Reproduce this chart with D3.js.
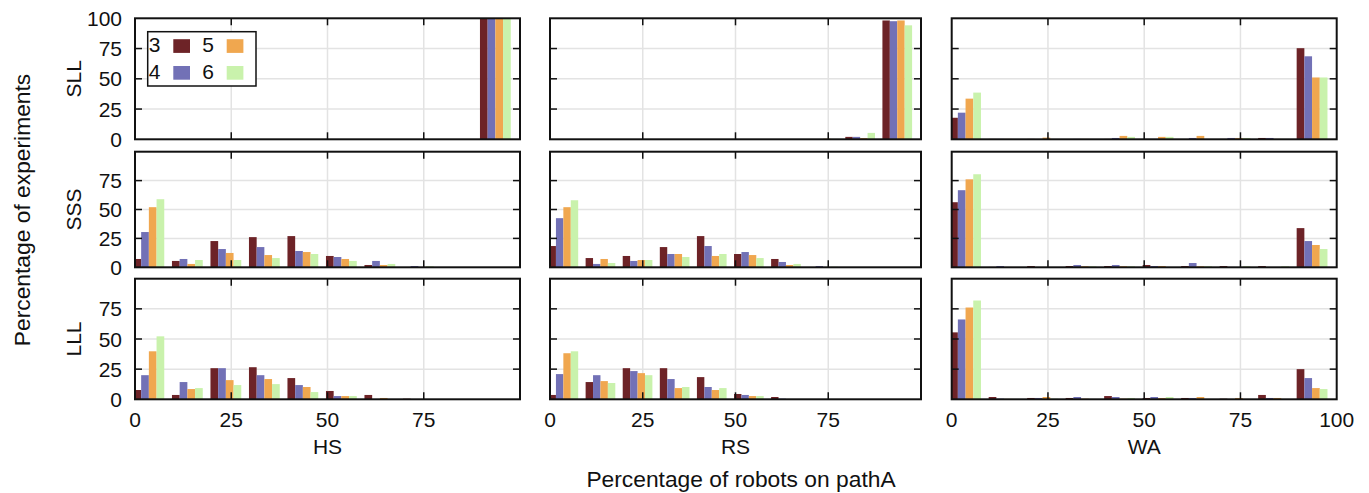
<!DOCTYPE html>
<html>
<head>
<meta charset="utf-8">
<script src="https://cdn.jsdelivr.net/npm/d3@7"></script>
<style>
  body { margin: 0; background: #fff; }
  text { font-family: "Liberation Sans", Arial, sans-serif; fill: #111; }
</style>
</head>
<body>
<svg id="chart" width="1369" height="493"></svg>
<script>
// Histogram bins (percentage of robots on path A) and swarm sizes
const bins = [0, 10, 20, 30, 40, 50, 60, 70, 80, 90];
const seriesNames = ["3", "4", "5", "6"];
const seriesColors = ["#6d2327", "#7271b6", "#f0a74f", "#c9f2ac"];
const rowNames = ["SLL", "SSS", "LLL"];
const colNames = ["HS", "RS", "WA"];
const xTickValues = [0, 25, 50, 75, 100];
const yTickValues = [0, 25, 50, 75, 100];

// Each panel: one array per swarm size (3, 4, 5, 6), one value per bin
const sllHS = [
  [0, 0, 0, 0, 0, 0, 0, 0, 0, 100],
  [0, 0, 0, 0, 0, 0, 0, 0, 0, 100],
  [0, 0, 0, 0, 0, 0, 0, 0, 0, 100],
  [0, 0, 0, 0, 0, 0, 0, 0, 0, 100]
];
const sllRS = [
  [0, 0, 0, 0, 0, 0, 0, 0, 2.0, 98.2],
  [0, 0, 0, 0, 0, 0, 0, 0, 2.0, 97.6],
  [0, 0, 0, 0, 0, 0, 0, 0.5, 1.0, 98.2],
  [0, 0, 0, 0, 0, 0, 0, 0.3, 5.3, 94.2]
];
const sllWA = [
  [17.8, 0.3, 0.3, 0, 0.3, 0.3, 0, 0.3, 1.1, 75.3],
  [22.0, 0.3, 0, 0.3, 1.1, 0.3, 1.1, 1.1, 1.1, 68.6],
  [33.6, 0.3, 1.4, 0.3, 2.8, 2.0, 2.8, 1.1, 0.3, 51.1],
  [38.6, 0, 0.3, 0, 2.0, 2.0, 0, 1.1, 0.3, 51.1]
];
const sssHS = [
  [7.2, 5.5, 22.7, 26.1, 27.0, 9.8, 2.0, 0, 0, 0],
  [30.5, 7.2, 15.8, 17.5, 14.1, 8.9, 5.5, 1.1, 0, 0],
  [52.0, 2.9, 12.4, 10.6, 13.2, 7.2, 2.0, 0, 0, 0],
  [58.9, 6.3, 6.3, 8.0, 11.5, 5.5, 2.9, 0.9, 0, 0]
];
const sssRS = [
  [18.4, 8.0, 9.8, 17.5, 27.0, 11.5, 7.2, 0, 0, 0],
  [42.5, 2.9, 5.5, 11.5, 18.4, 13.2, 4.6, 1.1, 0, 0],
  [52.0, 7.2, 6.3, 11.5, 9.8, 10.6, 2.0, 0, 0, 0],
  [58.0, 3.7, 6.3, 8.9, 11.5, 8.0, 2.9, 0.5, 0, 0]
];
const sssWA = [
  [56.3, 0.3, 1.1, 1.1, 1.1, 2.0, 1.1, 1.1, 1.1, 33.9],
  [66.7, 1.1, 0, 2.0, 2.0, 1.1, 3.7, 0.3, 0, 22.7],
  [76.1, 0.3, 0.3, 0.9, 0.9, 1.1, 0.9, 0, 0, 19.3],
  [80.5, 0, 0, 0.9, 0.9, 0, 0.9, 0.9, 0.9, 15.8]
];
const lllHS = [
  [7.7, 3.6, 25.8, 26.6, 17.6, 6.9, 3.6, 0.5, 0, 0],
  [20.0, 14.3, 25.8, 20.0, 11.8, 2.7, 0, 0, 0, 0],
  [39.8, 8.5, 15.9, 16.8, 10.2, 2.7, 1.1, 0, 0, 0],
  [52.2, 9.3, 11.8, 12.6, 6.0, 2.7, 0, 0, 0, 0]
];
const lllRS = [
  [3.6, 14.3, 25.8, 25.8, 18.4, 4.4, 1.9, 0, 0, 0],
  [20.9, 20.0, 23.4, 16.8, 10.2, 3.6, 0.5, 0, 0, 0],
  [38.2, 15.1, 21.7, 9.3, 7.7, 2.7, 0, 0, 0, 0],
  [39.8, 13.5, 20.0, 10.2, 9.3, 2.7, 0, 0.3, 0, 0]
];
const lllWA = [
  [55.5, 1.9, 1.1, 1.1, 2.7, 1.1, 1.1, 0.5, 3.6, 25.0],
  [66.2, 0.5, 1.1, 1.9, 1.9, 1.9, 1.1, 0, 1.1, 17.6],
  [76.1, 0.3, 1.9, 0.5, 0.5, 1.1, 1.9, 1.1, 1.1, 9.3],
  [81.9, 0.3, 0.5, 0.3, 1.1, 1.9, 0, 0, 0, 8.5]
];

const panelData = [
  [sllHS, sllRS, sllWA],
  [sssHS, sssRS, sssWA],
  [lllHS, lllRS, lllWA]
];

// Panel frames (pixels)
const colFrames = [[135, 520], [550, 921], [951.7, 1336.7]];
const rowFrames = [[18.3, 139.3], [151.7, 267.3], [278.7, 399.3]];

const barWidth = 2;      // in x units
const barShift = -0.4;   // left edge of first bar relative to bin start
const tickLen = 7;
const fontSize = 21;
const titleSize = 22.8;

const svg = d3.select("#chart");
const defs = svg.append("defs");

rowFrames.forEach(([y0, y1], r) => {
  colFrames.forEach(([x0, x1], c) => {
    const x = d3.scaleLinear().domain([0, 100]).range([x0, x1]);
    const y = d3.scaleLinear().domain([0, 100]).range([y1, y0]);
    const g = svg.append("g");
    const clipId = `clip-${r}-${c}`;
    defs.append("clipPath").attr("id", clipId)
      .append("rect").attr("x", x0).attr("y", y0)
      .attr("width", x1 - x0).attr("height", y1 - y0);

    // grid
    const grid = g.append("g").attr("stroke", "#e3e3e3").attr("stroke-width", 1.5);
    [25, 50, 75].forEach(v => {
      grid.append("line").attr("x1", x(v)).attr("x2", x(v)).attr("y1", y0).attr("y2", y1);
      grid.append("line").attr("x1", x0).attr("x2", x1).attr("y1", y(v)).attr("y2", y(v));
    });

    // bars
    const bars = g.append("g").attr("clip-path", `url(#${clipId})`);
    panelData[r][c].forEach((vals, k) => {
      bars.selectAll(null)
        .data(vals.map((v, i) => ({ bin: bins[i], v })))
        .join("rect")
        .attr("x", d => x(d.bin + barShift + k * barWidth))
        .attr("width", d => x(d.bin + barShift + (k + 1) * barWidth) - x(d.bin + barShift + k * barWidth))
        .attr("y", d => y(d.v))
        .attr("height", d => y(0) - y(d.v))
        .attr("fill", seriesColors[k]);
    });

    // ticks (inward, mirrored on all sides)
    const ticks = g.append("g").attr("stroke", "#111").attr("stroke-width", 1.5);
    [25, 50, 75].forEach(v => {
      ticks.append("line").attr("x1", x(v)).attr("x2", x(v)).attr("y1", y1).attr("y2", y1 - tickLen);
      ticks.append("line").attr("x1", x(v)).attr("x2", x(v)).attr("y1", y0).attr("y2", y0 + tickLen);
      ticks.append("line").attr("x1", x0).attr("x2", x0 + tickLen).attr("y1", y(v)).attr("y2", y(v));
      ticks.append("line").attr("x1", x1).attr("x2", x1 - tickLen).attr("y1", y(v)).attr("y2", y(v));
    });

    // frame
    g.append("rect").attr("x", x0).attr("y", y0)
      .attr("width", x1 - x0).attr("height", y1 - y0)
      .attr("fill", "none").attr("stroke", "#111").attr("stroke-width", 2);

    // y tick labels on the first column
    if (c === 0) {
      const labels = r === 0 ? yTickValues : yTickValues.filter(v => v < 100);
      labels.forEach(v => {
        svg.append("text").attr("x", 122).attr("y", y(v))
          .attr("dy", "0.36em").attr("text-anchor", "end")
          .attr("font-size", fontSize).text(v);
      });
      svg.append("text")
        .attr("transform", `translate(81,${(y0 + y1) / 2}) rotate(-90)`)
        .attr("text-anchor", "middle").attr("font-size", fontSize)
        .text(rowNames[r]);
    }

    // x tick labels and panel names on the last row
    if (r === rowFrames.length - 1) {
      const labels = c === colFrames.length - 1 ? xTickValues : xTickValues.filter(v => v < 100);
      labels.forEach(v => {
        svg.append("text").attr("x", x(v)).attr("y", 427.3)
          .attr("text-anchor", "middle").attr("font-size", fontSize).text(v);
      });
      svg.append("text").attr("x", (x0 + x1) / 2).attr("y", 454.3)
        .attr("text-anchor", "middle").attr("font-size", fontSize)
        .text(colNames[c]);
    }
  });
});

// legend
const legend = svg.append("g");
legend.append("rect").attr("x", 147.7).attr("y", 31.7).attr("width", 108.3).attr("height", 54.3)
  .attr("fill", "#fff").attr("stroke", "#111").attr("stroke-width", 1.5);
const legendPos = [
  { tx: 154.5, sx: 173.3, base: 51.7, sy: 39.2 },
  { tx: 154.5, sx: 173.3, base: 79, sy: 66 },
  { tx: 208, sx: 226.7, base: 51.7, sy: 39.2 },
  { tx: 208, sx: 226.7, base: 79, sy: 66 }
];
seriesNames.forEach((name, k) => {
  const p = legendPos[k];
  legend.append("text").attr("x", p.tx).attr("y", p.base)
    .attr("text-anchor", "middle").attr("font-size", fontSize).text(name);
  legend.append("rect").attr("x", p.sx).attr("y", p.sy)
    .attr("width", 16.7).attr("height", 13.7).attr("fill", seriesColors[k]);
});

// axis titles
svg.append("text").attr("x", 741).attr("y", 487)
  .attr("text-anchor", "middle").attr("font-size", titleSize)
  .text("Percentage of robots on pathA");
svg.append("text")
  .attr("transform", "translate(30,210) rotate(-90)")
  .attr("text-anchor", "middle").attr("font-size", titleSize)
  .text("Percentage of experiments");
</script>
</body>
</html>
